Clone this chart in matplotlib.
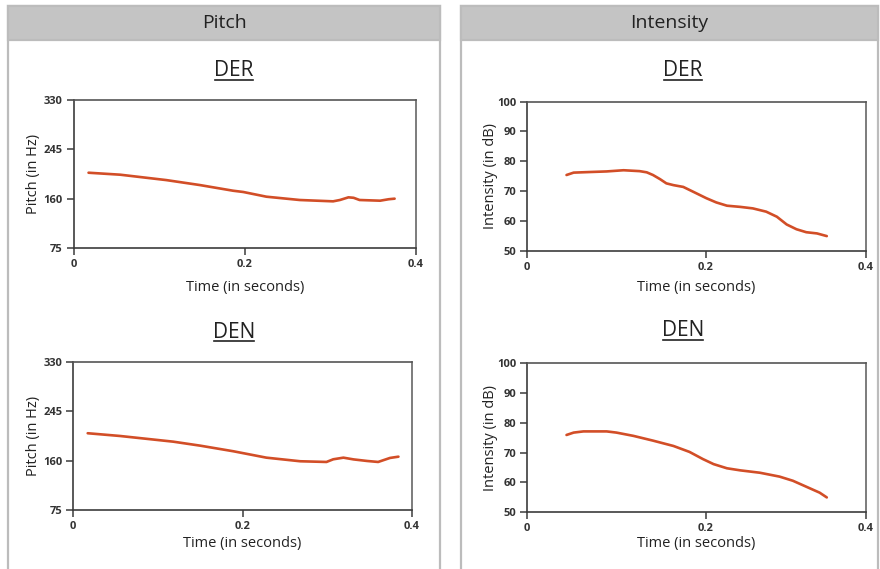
import matplotlib
matplotlib.use("Agg")
import matplotlib.pyplot as plt
from matplotlib.patches import Rectangle
from matplotlib.lines import Line2D

plt.rcParams['font.family'] = ['Open Sans', 'DejaVu Sans']

# ---------------- data ----------------
pitch_der_t = [0.017, 0.054, 0.108, 0.147, 0.186, 0.198, 0.225, 0.264, 0.303, 0.311,
               0.321, 0.327, 0.334, 0.358, 0.368, 0.375]
pitch_der_hz = [204.7, 201.3, 192.0, 183.5, 173.7, 171.5, 163.4, 157.7, 155.4, 157.7,
                162.3, 161.5, 157.7, 156.5, 159.0, 160.0]

pitch_den_t = [0.017, 0.055, 0.118, 0.150, 0.189, 0.228, 0.268, 0.299, 0.307, 0.319,
               0.331, 0.347, 0.360, 0.374, 0.384]
pitch_den_hz = [207.0, 202.3, 192.5, 185.6, 176.0, 165.0, 158.8, 157.6, 162.2, 165.0,
                162.0, 159.3, 157.6, 164.5, 166.7]

int_der_t = [0.044, 0.052, 0.070, 0.089, 0.108, 0.126, 0.134, 0.141, 0.149, 0.156,
             0.164, 0.175, 0.186, 0.201, 0.212, 0.224, 0.239, 0.253, 0.268, 0.280,
             0.291, 0.302, 0.313, 0.325, 0.336]
int_der_db = [75.4, 76.2, 76.4, 76.6, 77.0, 76.7, 76.3, 75.4, 74.0, 72.6,
              72.0, 71.4, 69.8, 67.6, 66.2, 65.1, 64.7, 64.2, 63.1, 61.4,
              58.8, 57.2, 56.2, 55.8, 54.9]

int_den_t = [0.044, 0.052, 0.063, 0.089, 0.100, 0.119, 0.141, 0.164, 0.182, 0.197,
             0.209, 0.224, 0.239, 0.261, 0.283, 0.298, 0.313, 0.328, 0.336]
int_den_db = [75.9, 76.7, 77.1, 77.1, 76.7, 75.6, 74.0, 72.2, 70.2, 67.8,
              66.1, 64.7, 64.0, 63.2, 61.9, 60.5, 58.5, 56.5, 54.9]

pitch_yticks = [75, 160, 245, 330]
int_yticks = [50, 60, 70, 80, 90, 100]
pitch_xticks = [0, 0.2, 0.4]
int_xticks = [0, 0.2, 0.38]
x_ticklabels = ['0', '0.2', '0.4']

panel_titles = ['Pitch', 'Intensity']
word_titles = ['DER', 'DEN']

# ---------------- layout helpers ----------------
W, H = 880, 569
fig = plt.figure(figsize=(W / 100, H / 100), dpi=100)
fig.patch.set_facecolor('white')


def fx(x):
    return x / W


def fy(y):
    return 1 - y / H


def add_axes_px(x0, y0, x1, y1):
    return fig.add_axes([fx(x0), fy(y1), (x1 - x0) / W, (y1 - y0) / H])


# panels
border = '#bcbcbc'
header = '#c4c4c4'
for (x0, x1), title in zip([(8, 440), (461, 878)], panel_titles):
    fig.patches.append(Rectangle((fx(x0), -0.02), (x1 - x0) / W, fy(6) + 0.02,
                                 transform=fig.transFigure, facecolor='white',
                                 edgecolor=border, linewidth=1.6, zorder=0))
    fig.patches.append(Rectangle((fx(x0), fy(40)), (x1 - x0) / W, 34 / H,
                                 transform=fig.transFigure, facecolor=header,
                                 edgecolor=border, linewidth=1.6, zorder=0))
    fig.text(fx((x0 + x1) / 2), fy(23), title, ha='center', va='center',
             fontsize=14, color='#222222')

line_color = '#d24e27'
spine_color = '#3c3c3c'


def style(ax, yticks, xticks, xlim, ylim):
    ax.set_xlim(*xlim)
    ax.set_ylim(*ylim)
    ax.set_yticks(yticks)
    ax.set_yticklabels([str(v) for v in yticks])
    ax.set_xticks(xticks)
    ax.set_xticklabels(x_ticklabels)
    for s in ax.spines.values():
        s.set_color(spine_color)
        s.set_linewidth(1.2)
    ax.spines['top'].set_color('#555555')
    ax.spines['right'].set_color('#666666')
    ax.tick_params(axis='both', direction='out', length=5, width=1.1,
                   color=spine_color, labelsize=8, labelcolor='#333333', pad=3)
    for lab in ax.get_xticklabels() + ax.get_yticklabels():
        lab.set_fontweight('bold')


specs = [
    ((74, 100, 416, 248), (pitch_der_t, pitch_der_hz), pitch_yticks, pitch_xticks,
     (0, 0.4), (75, 330), 'Pitch (in Hz)', 33, 287, (234, 71), 'DER'),
    ((73.3, 361.7, 412, 510), (pitch_den_t, pitch_den_hz), pitch_yticks, pitch_xticks,
     (0, 0.4), (75, 330), 'Pitch (in Hz)', 33, 543, (234, 332), 'DEN'),
    ((527.3, 101.7, 866, 250.7), (int_der_t, int_der_db), int_yticks, int_xticks,
     (0, 0.38), (50, 100), 'Intensity (in dB)', 490, 287, (683, 71), 'DER'),
    ((527.3, 363.3, 866, 512), (int_den_t, int_den_db), int_yticks, int_xticks,
     (0, 0.38), (50, 100), 'Intensity (in dB)', 490, 543, (683, 331), 'DEN'),
]

titles = []
for box, (t, v), yt, xt, xl, yl, ylab, ylx, xly, tpos, word in specs:
    ax = add_axes_px(*box)
    ax.set_zorder(5)
    ax.set_facecolor('white')
    ax.plot(t, v, color=line_color, lw=1.9, solid_capstyle='round',
            solid_joinstyle='round')
    style(ax, yt, xt, xl, yl)
    xc = (box[0] + box[2]) / 2
    fig.text(fx(ylx), fy((box[1] + box[3]) / 2), ylab, rotation=90,
             ha='center', va='center', fontsize=10.5, color='#222222')
    fig.text(fx(xc), fy(xly), 'Time (in seconds)', ha='center', va='center',
             fontsize=10.5, color='#222222')
    titles.append(fig.text(fx(tpos[0]), fy(tpos[1]), word, ha='center', va='center',
                           fontsize=15, color='#222222'))

# underline the word titles
fig.canvas.draw()
renderer = fig.canvas.get_renderer()
for t in titles:
    bb = t.get_window_extent(renderer).transformed(fig.transFigure.inverted())
    yline = bb.y0 + 1.5 / H
    fig.lines.append(Line2D([bb.x0 + 1 / W, bb.x1 - 1 / W], [yline, yline],
                            transform=fig.transFigure, color='#222222', lw=1.2))

fig.savefig('out.png', dpi=100, facecolor='white')
